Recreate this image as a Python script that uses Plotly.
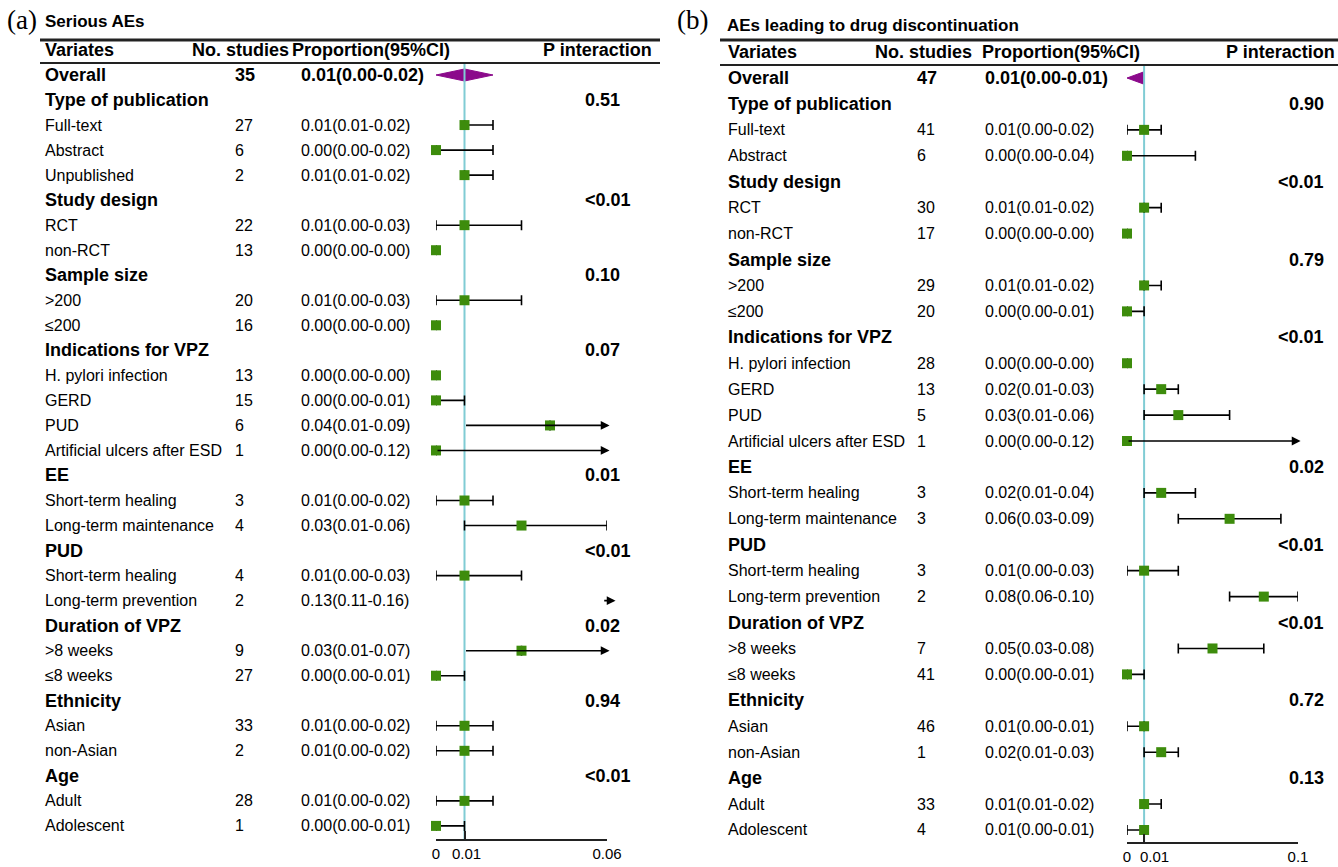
import plotly.graph_objects as go

W, H = 1338, 867
SANS = "Arial, 'Liberation Sans', sans-serif"
SERIF = "'Times New Roman', 'Liberation Serif', serif"
GREEN = "#3d8c0c"
PURPLE = "#8b0a8b"
CYAN = "#80ccd4"

# ---------------- Panel (a): Serious AEs ----------------
labels_a = ["Overall", "Type of publication", "Full-text", "Abstract", "Unpublished",
            "Study design", "RCT", "non-RCT", "Sample size", ">200", "≤200",
            "Indications for VPZ", "H. pylori infection", "GERD", "PUD",
            "Artificial ulcers after ESD", "EE", "Short-term healing",
            "Long-term maintenance", "PUD", "Short-term healing", "Long-term prevention",
            "Duration of VPZ", ">8 weeks", "≤8 weeks", "Ethnicity", "Asian", "non-Asian",
            "Age", "Adult", "Adolescent"]
n_a = [35, None, 27, 6, 2, None, 22, 13, None, 20, 16, None, 13, 15, 6, 1, None, 3, 4,
       None, 4, 2, None, 9, 27, None, 33, 2, None, 28, 1]
est_a = [0.01, None, 0.01, 0.00, 0.01, None, 0.01, 0.00, None, 0.01, 0.00, None, 0.00, 0.00,
         0.04, 0.00, None, 0.01, 0.03, None, 0.01, 0.13, None, 0.03, 0.00, None, 0.01, 0.01,
         None, 0.01, 0.00]
lo_a = [0.00, None, 0.01, 0.00, 0.01, None, 0.00, 0.00, None, 0.00, 0.00, None, 0.00, 0.00,
        0.01, 0.00, None, 0.00, 0.01, None, 0.00, 0.11, None, 0.01, 0.00, None, 0.00, 0.00,
        None, 0.00, 0.00]
hi_a = [0.02, None, 0.02, 0.02, 0.02, None, 0.03, 0.00, None, 0.03, 0.00, None, 0.00, 0.01,
        0.09, 0.12, None, 0.02, 0.06, None, 0.03, 0.16, None, 0.07, 0.01, None, 0.02, 0.02,
        None, 0.02, 0.01]
p_a = ["0.51", "<0.01", "0.10", "0.07", "0.01", "<0.01", "0.02", "0.94", "<0.01"]
ticks_a = [0, 0.01, 0.06]
ticktext_a = ["0", "0.01", "0.06"]

# ---------------- Panel (b): AEs leading to drug discontinuation ----------------
labels_b = ["Overall", "Type of publication", "Full-text", "Abstract", "Study design", "RCT",
            "non-RCT", "Sample size", ">200", "≤200", "Indications for VPZ",
            "H. pylori infection", "GERD", "PUD", "Artificial ulcers after ESD", "EE",
            "Short-term healing", "Long-term maintenance", "PUD", "Short-term healing",
            "Long-term prevention", "Duration of VPZ", ">8 weeks", "≤8 weeks", "Ethnicity",
            "Asian", "non-Asian", "Age", "Adult", "Adolescent"]
n_b = [47, None, 41, 6, None, 30, 17, None, 29, 20, None, 28, 13, 5, 1, None, 3, 3, None, 3,
       2, None, 7, 41, None, 46, 1, None, 33, 4]
est_b = [0.01, None, 0.01, 0.00, None, 0.01, 0.00, None, 0.01, 0.00, None, 0.00, 0.02, 0.03,
         0.00, None, 0.02, 0.06, None, 0.01, 0.08, None, 0.05, 0.00, None, 0.01, 0.02, None,
         0.01, 0.01]
lo_b = [0.00, None, 0.00, 0.00, None, 0.01, 0.00, None, 0.01, 0.00, None, 0.00, 0.01, 0.01,
        0.00, None, 0.01, 0.03, None, 0.00, 0.06, None, 0.03, 0.00, None, 0.00, 0.01, None,
        0.01, 0.00]
hi_b = [0.01, None, 0.02, 0.04, None, 0.02, 0.00, None, 0.02, 0.01, None, 0.00, 0.03, 0.06,
        0.12, None, 0.04, 0.09, None, 0.03, 0.10, None, 0.08, 0.01, None, 0.01, 0.03, None,
        0.02, 0.01]
p_b = ["0.90", "<0.01", "0.79", "<0.01", "0.02", "<0.01", "<0.01", "0.72", "0.13"]
ticks_b = [0, 0.01, 0.1]
ticktext_b = ["0", "0.01", "0.1"]

REF = 0.01

panels = [
    dict(tag="(a)", title="Serious AEs", labels=labels_a, n=n_a, est=est_a, lo=lo_a, hi=hi_a,
         p=p_a, ticks=ticks_a, ticktext=ticktext_a, xmax=0.06, ref_label_shift=2,
         xa="x", ya="y", xkey="xaxis", ykey="yaxis",
         row0=75, step=25.03, label_x=43, n_x=233, prop_x=299, p_x=583, p_anchor="left",
         head_y=50, head_x=[43, 190, 290, 541], head_anchor=["left"] * 4,
         title_xy=(43, 22), tag_xy=(5, 20),
         rule_x=(40, 660), rule_y=(40, 63), dom=(436, 607), axis_y=840),
    dict(tag="(b)", title="AEs leading to drug discontinuation", labels=labels_b, n=n_b,
         est=est_b, lo=lo_b, hi=hi_b, p=p_b, ticks=ticks_b, ticktext=ticktext_b, xmax=0.1,
         ref_label_shift=10,
         xa="x2", ya="y2", xkey="xaxis2", ykey="yaxis2",
         row0=78, step=25.93, label_x=726, n_x=915, prop_x=983, p_x=1326, p_anchor="right",
         head_y=52, head_x=[726, 873, 980, 1337], head_anchor=["left", "left", "left", "right"],
         title_xy=(725, 25), tag_xy=(675, 20),
         rule_x=(720, 1338), rule_y=(40, 65), dom=(1127, 1298), axis_y=843),
]

fig = go.Figure()
annotations = []
shapes = []


def fx(p):
    return p / W


def fy(p):
    return 1 - p / H


for P in panels:
    def ry(i, P=P):
        return fy(P["row0"] + i * P["step"])

    def prow(pix, P=P):
        return (pix - P["row0"]) / P["step"]

    # tag and title
    annotations.append(dict(text=P["tag"], x=fx(P["tag_xy"][0]), y=fy(P["tag_xy"][1]),
                            xref="paper", yref="paper", xanchor="left", yanchor="middle",
                            showarrow=False, font=dict(family=SERIF, size=27, color="black")))
    annotations.append(dict(text="<b>" + P["title"] + "</b>", x=fx(P["title_xy"][0]),
                            y=fy(P["title_xy"][1]), xref="paper", yref="paper",
                            xanchor="left", yanchor="middle", showarrow=False,
                            font=dict(family=SANS, size=17, color="black")))
    # header
    for txt, hx, anc in zip(["Variates", "No. studies", "Proportion(95%CI)", "P interaction"],
                            P["head_x"], P["head_anchor"]):
        annotations.append(dict(text="<b>" + txt + "</b>", x=fx(hx), y=fy(P["head_y"]),
                                xref="paper", yref="paper", xanchor=anc, yanchor="middle",
                                showarrow=False, font=dict(family=SANS, size=18, color="black")))
    # rules
    for k, yy in enumerate(P["rule_y"]):
        shapes.append(dict(type="line", xref="paper", yref="paper",
                           x0=fx(P["rule_x"][0]), x1=fx(P["rule_x"][1]), y0=fy(yy), y1=fy(yy),
                           line=dict(color="#222", width=3 if k == 0 else 2)))

    # rows
    gi = 0
    mx, my, ep, em = [], [], [], []
    for i, lab in enumerate(P["labels"]):
        n = P["n"][i]
        y = ry(i)
        if n is None:  # group header
            annotations.append(dict(text="<b>" + lab + "</b>", x=fx(P["label_x"]), y=y,
                                    xref="paper", yref="paper", xanchor="left",
                                    yanchor="middle", showarrow=False,
                                    font=dict(family=SANS, size=18, color="black")))
            annotations.append(dict(text="<b>" + P["p"][gi] + "</b>", x=fx(P["p_x"]), y=y,
                                    xref="paper", yref="paper", xanchor=P["p_anchor"],
                                    yanchor="middle", showarrow=False,
                                    font=dict(family=SANS, size=18, color="black")))
            gi += 1
            continue
        e, l, h = P["est"][i], P["lo"][i], P["hi"][i]
        prop = f"{e:.2f}({l:.2f}-{h:.2f})"
        bold = i == 0
        fsize = 18 if bold else 16
        wrap = (lambda s: "<b>" + s + "</b>") if bold else (lambda s: s)
        for txt, xx in [(lab, P["label_x"]), (str(n), P["n_x"]), (prop, P["prop_x"])]:
            annotations.append(dict(text=wrap(txt), x=fx(xx), y=y, xref="paper", yref="paper",
                                    xanchor="left", yanchor="middle", showarrow=False,
                                    font=dict(family=SANS, size=fsize, color="black")))
        if i == 0:
            d = 0.24
            fig.add_trace(go.Scatter(x=[l, e, h, e, l], y=[i, i - d, i, i + d, i],
                                     xaxis=P["xa"], yaxis=P["ya"], mode="lines",
                                     fill="toself", fillcolor=PURPLE,
                                     line=dict(color=PURPLE, width=1), hoverinfo="skip",
                                     showlegend=False))
            continue
        xmax = P["xmax"]
        if l >= xmax:
            annotations.append(dict(text="", x=xmax * 1.05, y=i, ax=xmax * 0.975, ay=i,
                                    xref=P["xa"], yref=P["ya"], axref=P["xa"], ayref=P["ya"],
                                    showarrow=True, arrowhead=2, arrowsize=1.1, arrowwidth=1.6,
                                    arrowcolor="black", standoff=0, startstandoff=0))
            continue
        if h > xmax:
            annotations.append(dict(text="", x=xmax * 1.015, y=i, ax=l, ay=i,
                                    xref=P["xa"], yref=P["ya"], axref=P["xa"], ayref=P["ya"],
                                    showarrow=True, arrowhead=2, arrowsize=1.1, arrowwidth=1.6,
                                    arrowcolor="black", standoff=0, startstandoff=0))
            ep.append(0)
            em.append(0)
        else:
            ep.append(h - e)
            em.append(e - l)
        mx.append(e)
        my.append(i)

    # reference line
    fig.add_trace(go.Scatter(x=[REF, REF], y=[prow(P["rule_y"][1]), prow(P["axis_y"])],
                             xaxis=P["xa"], yaxis=P["ya"], mode="lines",
                             line=dict(color=CYAN, width=2), hoverinfo="skip",
                             showlegend=False, cliponaxis=False))
    fig.add_trace(go.Scatter(x=mx, y=my, xaxis=P["xa"], yaxis=P["ya"], mode="markers",
                             marker=dict(symbol="square", size=10, color=GREEN),
                             error_x=dict(type="data", symmetric=False, array=ep,
                                          arrayminus=em, color="black", thickness=1.6,
                                          width=5),
                             cliponaxis=False, hoverinfo="skip", showlegend=False))

    # tick labels: the label at the reference value is drawn as its own text so it
    # can sit a little right of its tick (as in the original), the others by the axis
    shown = [t if v != REF else "" for v, t in zip(P["ticks"], P["ticktext"])]
    fig.layout[P["xkey"]] = dict(domain=[fx(P["dom"][0]), fx(P["dom"][1])],
                                 range=[0, P["xmax"]], anchor="free",
                                 position=1 - P["axis_y"] / H,
                                 showline=True, linecolor="#222", linewidth=2,
                                 ticks="inside", ticklen=8, tickwidth=2, tickcolor="#222",
                                 tickvals=P["ticks"], ticktext=shown, tickangle=0,
                                 automargin=False,
                                 tickfont=dict(family=SANS, size=15, color="black"),
                                 showgrid=False, zeroline=False, fixedrange=True)
    fig.layout[P["ykey"]] = dict(domain=[0, 1],
                                 range=[(H - P["row0"]) / P["step"], -P["row0"] / P["step"]],
                                 anchor=P["xa"], visible=False, showgrid=False,
                                 automargin=False, zeroline=False, fixedrange=True)
    annotations.append(dict(text=P["ticktext"][P["ticks"].index(REF)], x=REF,
                            y=fy(P["axis_y"] + 13), xref=P["xa"], yref="paper",
                            xanchor="center", yanchor="middle",
                            xshift=P["ref_label_shift"], showarrow=False,
                            font=dict(family=SANS, size=15, color="black")))

fig.update_layout(width=W, height=H, autosize=False,
                  margin=dict(l=0, r=0, t=0, b=0, pad=0, autoexpand=False),
                  paper_bgcolor="white", plot_bgcolor="rgba(0,0,0,0)",
                  annotations=annotations, shapes=shapes, showlegend=False)

fig.write_html("out.html", config={"displayModeBar": False},
               post_script="document.body.style.margin='0';"
                           "document.body.style.padding='0';"
                           "document.body.style.overflow='hidden';")
